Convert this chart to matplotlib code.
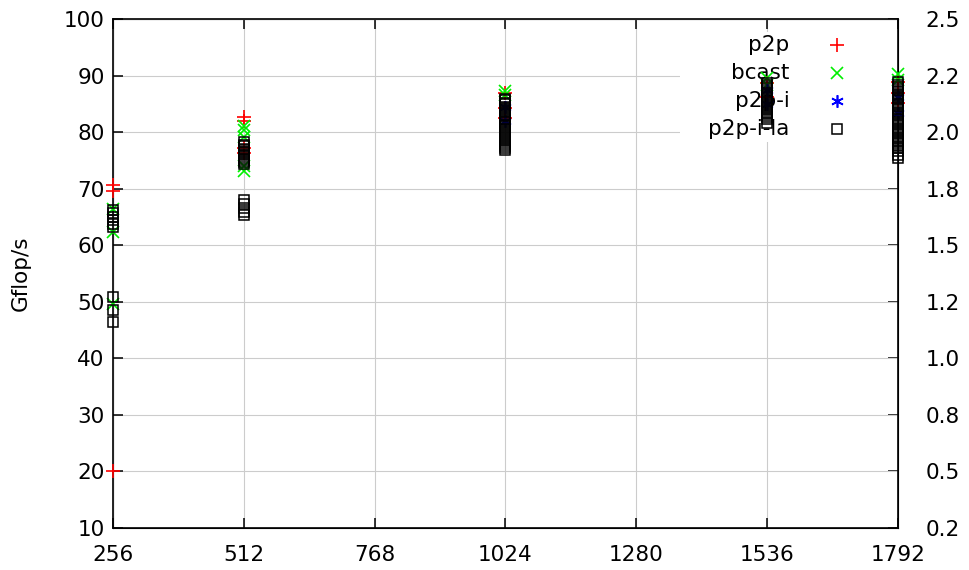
import matplotlib.pyplot as plt
from matplotlib.patches import Rectangle
import numpy as np

# значения (Gflop/s) для каждого размера
sizes = [256, 512, 1024, 1536, 1792]

p2p = {
    256: [70.6, 69.5, 20.0],
    512: [82.6, 81.9, 77.2, 76.3],
    1024: [87.0, 84.2, 82.5],
    1536: [88.6, 86.2],
    1792: [88.9, 87.0, 85.1],
}
bcast = {
    256: [66.4, 62.3, 49.6],
    512: [81.1, 80.4, 79.2, 74.0, 73.2],
    1024: [87.3, 86.6],
    1536: [89.6, 88.3],
    1792: [90.3, 89.2],
}
p2p_i = {
    256: [],
    512: [],
    1024: [84.5, 82.0],
    1536: [87.5, 85.0],
    1792: [86.2, 83.4],
}
p2p_i_la = {
    256: [66.3, 65.7, 65.0, 64.4, 63.8, 63.2, 50.9, 48.6, 46.4],
    512: [78.2, 77.8, 77.5, 77.1, 76.8, 76.4, 76.1, 75.7, 75.4, 75.0,
          74.7, 74.3, 68.0, 67.3, 66.6, 65.9, 65.3],
    1024: [85.9, 85.6, 85.2, 84.9, 84.5, 84.2, 83.8, 83.5, 83.1, 82.8,
           82.4, 82.1, 81.7, 81.4, 81.0, 80.7, 80.3, 80.0, 79.6, 79.3,
           78.9, 78.6, 78.2, 77.9, 77.5, 77.2, 76.9],
    1536: [88.6, 88.3, 87.9, 87.6, 87.2, 86.9, 86.5, 86.2, 85.8, 85.5,
           85.1, 84.8, 84.4, 84.1, 83.7, 83.4, 83.0, 82.6, 82.3, 81.6],
    1792: [88.8, 88.4, 88.0, 87.6, 87.2, 86.8, 86.4, 86.0, 85.6, 85.2,
           84.8, 84.4, 84.0, 83.6, 83.2, 82.8, 82.4, 82.0, 81.6, 81.2,
           80.8, 80.4, 80.0, 79.6, 79.2, 78.8, 78.4, 78.0, 77.6, 77.2,
           76.6, 76.0, 75.5],
}

labels = ['p2p', 'bcast', 'p2p-i', 'p2p-i-la']
series = [p2p, bcast, p2p_i, p2p_i_la]
styles = [
    dict(marker='+', color='#ff0000', ms=10, mew=1.2),
    dict(marker='x', color='#00ee00', ms=8, mew=1.2),
    dict(marker=(6, 2, 0), color='#0000ff', ms=9, mew=1.2),
    dict(marker='s', color='black', mfc='none', ms=7.5, mew=1.1),
]

xticks = [256, 512, 768, 1024, 1280, 1536, 1792]
yticks = [10, 20, 30, 40, 50, 60, 70, 80, 90, 100]
y2ticks = np.arange(0.25, 2.51, 0.25)

plt.rcParams['font.family'] = 'DejaVu Sans'
plt.rcParams['font.size'] = 15.5

fig = plt.figure(figsize=(9.7, 5.7), dpi=100)
ax = fig.add_axes([113 / 970, 42 / 570, 785 / 970, 509 / 570])

for data, st in zip(series, styles):
    xs = []
    ys = []
    for s in sizes:
        xs += [s] * len(data[s])
        ys += data[s]
    ax.plot(xs, ys, ls='none', zorder=3, clip_on=False, **st)

ax.set_xlim(256, 1792)
ax.set_ylim(10, 100)
ax.set_xticks(xticks)
ax.set_yticks(yticks)
ax.set_ylabel('Gflop/s', labelpad=24)
ax.grid(True, color='#cccccc', lw=0.8)
ax.set_axisbelow(True)
ax.tick_params(direction='in', length=7, width=1.1, top=True, right=False, pad=6)
ax.tick_params(axis='x', pad=12)
for sp in ax.spines.values():
    sp.set_linewidth(1.2)

# правая ось: та же шкала / 40
ax2 = ax.twinx()
ax2.set_ylim(10 / 40, 100 / 40)
ax2.set_yticks(y2ticks)
ax2.set_yticklabels(['%.1f' % v for v in y2ticks])
ax2.tick_params(direction='in', length=7, width=1.1, pad=20)
ax2.set_zorder(ax.get_zorder() - 1)
ax.patch.set_visible(False)

# легенда как в gnuplot: текст справа выровнен, маркер правее
ax.add_patch(Rectangle((0.722, 0.758), 0.278, 0.216, transform=ax.transAxes,
                       facecolor='white', edgecolor='none', zorder=1))
rows = [0.949, 0.894, 0.839, 0.784]
for lab, st, y in zip(labels, styles, rows):
    ax.text(0.862, y, lab, ha='right', va='center', transform=ax.transAxes, zorder=2)
    ax.plot([0.922], [y], ls='none', transform=ax.transAxes, zorder=2, **st)

fig.savefig('out.png', dpi=100)
